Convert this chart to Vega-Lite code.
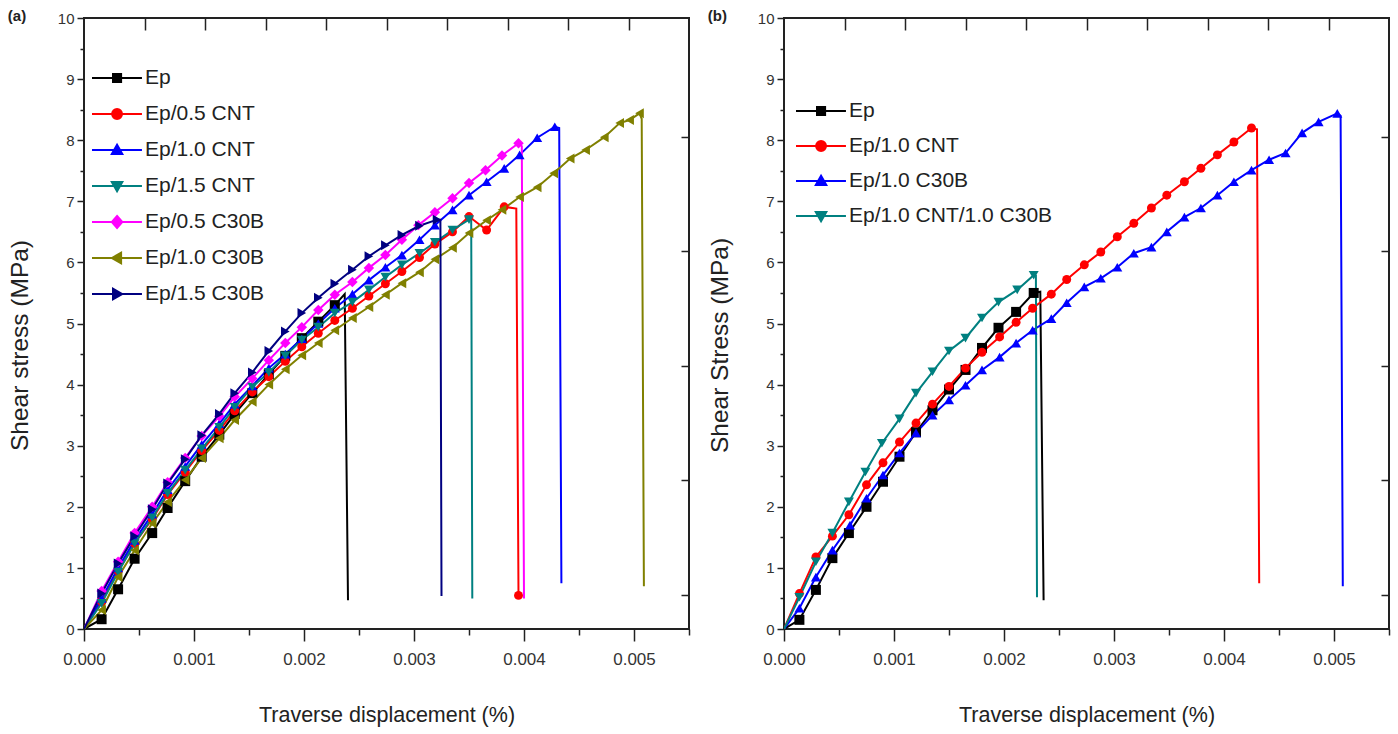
{
"$schema": "https://vega.github.io/schema/vega-lite/v6.json",
"background": "white",
"padding": {"left": 6, "top": 8, "right": 0, "bottom": 0},
"spacing": 15,
"config": {
  "font": "Liberation Sans",
  "view": {"stroke": "#222222", "strokeWidth": 2},
  "axis": {"grid": false, "domain": false, "tickColor": "#222222", "tickWidth": 1.5, "labelColor": "#333333", "titleColor": "#222222", "labelFont": "Liberation Sans", "titleFont": "Liberation Sans", "titleFontWeight": "normal", "labelOverlap": false, "labelFlush": false},
  "title": {"font": "Liberation Sans", "fontSize": 15, "fontWeight": "bold", "color": "#222222"},
  "point": {"filled": true, "opacity": 1, "size": 100, "clip": true}
},
"datasets": {
"a": [
{"s":"Ep","x":0,"y":0,"k":"trace"},{"s":"Ep","x":0.00016,"y":0.16,"k":"sample"},{"s":"Ep","x":0.00031,"y":0.65,"k":"sample"},{"s":"Ep","x":0.00046,"y":1.15,"k":"sample"},{"s":"Ep","x":0.00062,"y":1.57,"k":"sample"},{"s":"Ep","x":0.00076,"y":1.98,"k":"sample"},{"s":"Ep","x":0.00092,"y":2.42,"k":"sample"},{"s":"Ep","x":0.00107,"y":2.82,"k":"sample"},{"s":"Ep","x":0.00123,"y":3.18,"k":"sample"},{"s":"Ep","x":0.00137,"y":3.52,"k":"sample"},{"s":"Ep","x":0.00153,"y":3.86,"k":"sample"},{"s":"Ep","x":0.00168,"y":4.17,"k":"sample"},{"s":"Ep","x":0.00183,"y":4.47,"k":"sample"},{"s":"Ep","x":0.00198,"y":4.76,"k":"sample"},{"s":"Ep","x":0.00213,"y":5.03,"k":"sample"},{"s":"Ep","x":0.00228,"y":5.3,"k":"sample"},{"s":"Ep","x":0.00237,"y":5.48,"k":"trace"},{"s":"Ep","x":0.0024,"y":0.47,"k":"trace"},
{"s":"Ep/0.5 CNT","x":0,"y":0,"k":"trace"},{"s":"Ep/0.5 CNT","x":0.00016,"y":0.45,"k":"sample"},{"s":"Ep/0.5 CNT","x":0.00031,"y":0.95,"k":"sample"},{"s":"Ep/0.5 CNT","x":0.00046,"y":1.4,"k":"sample"},{"s":"Ep/0.5 CNT","x":0.00062,"y":1.8,"k":"sample"},{"s":"Ep/0.5 CNT","x":0.00076,"y":2.2,"k":"sample"},{"s":"Ep/0.5 CNT","x":0.00092,"y":2.57,"k":"sample"},{"s":"Ep/0.5 CNT","x":0.00107,"y":2.92,"k":"sample"},{"s":"Ep/0.5 CNT","x":0.00123,"y":3.25,"k":"sample"},{"s":"Ep/0.5 CNT","x":0.00137,"y":3.57,"k":"sample"},{"s":"Ep/0.5 CNT","x":0.00153,"y":3.88,"k":"sample"},{"s":"Ep/0.5 CNT","x":0.00168,"y":4.13,"k":"sample"},{"s":"Ep/0.5 CNT","x":0.00183,"y":4.38,"k":"sample"},{"s":"Ep/0.5 CNT","x":0.00198,"y":4.62,"k":"sample"},{"s":"Ep/0.5 CNT","x":0.00213,"y":4.84,"k":"sample"},{"s":"Ep/0.5 CNT","x":0.00228,"y":5.05,"k":"sample"},{"s":"Ep/0.5 CNT","x":0.00244,"y":5.25,"k":"sample"},{"s":"Ep/0.5 CNT","x":0.00259,"y":5.45,"k":"sample"},{"s":"Ep/0.5 CNT","x":0.00274,"y":5.65,"k":"sample"},{"s":"Ep/0.5 CNT","x":0.00289,"y":5.85,"k":"sample"},{"s":"Ep/0.5 CNT","x":0.00305,"y":6.08,"k":"sample"},{"s":"Ep/0.5 CNT","x":0.00319,"y":6.3,"k":"sample"},{"s":"Ep/0.5 CNT","x":0.00335,"y":6.5,"k":"sample"},{"s":"Ep/0.5 CNT","x":0.0035,"y":6.75,"k":"sample"},{"s":"Ep/0.5 CNT","x":0.00366,"y":6.53,"k":"sample"},{"s":"Ep/0.5 CNT","x":0.00382,"y":6.91,"k":"sample"},{"s":"Ep/0.5 CNT","x":0.00393,"y":6.88,"k":"trace"},{"s":"Ep/0.5 CNT","x":0.00395,"y":0.55,"k":"sample"},
{"s":"Ep/1.0 CNT","x":0,"y":0,"k":"trace"},{"s":"Ep/1.0 CNT","x":0.00016,"y":0.5,"k":"sample"},{"s":"Ep/1.0 CNT","x":0.00031,"y":1.0,"k":"sample"},{"s":"Ep/1.0 CNT","x":0.00046,"y":1.45,"k":"sample"},{"s":"Ep/1.0 CNT","x":0.00062,"y":1.88,"k":"sample"},{"s":"Ep/1.0 CNT","x":0.00076,"y":2.28,"k":"sample"},{"s":"Ep/1.0 CNT","x":0.00092,"y":2.66,"k":"sample"},{"s":"Ep/1.0 CNT","x":0.00107,"y":3.02,"k":"sample"},{"s":"Ep/1.0 CNT","x":0.00123,"y":3.36,"k":"sample"},{"s":"Ep/1.0 CNT","x":0.00137,"y":3.68,"k":"sample"},{"s":"Ep/1.0 CNT","x":0.00153,"y":3.98,"k":"sample"},{"s":"Ep/1.0 CNT","x":0.00168,"y":4.27,"k":"sample"},{"s":"Ep/1.0 CNT","x":0.00183,"y":4.5,"k":"sample"},{"s":"Ep/1.0 CNT","x":0.00198,"y":4.75,"k":"sample"},{"s":"Ep/1.0 CNT","x":0.00213,"y":5.0,"k":"sample"},{"s":"Ep/1.0 CNT","x":0.00228,"y":5.25,"k":"sample"},{"s":"Ep/1.0 CNT","x":0.00244,"y":5.48,"k":"sample"},{"s":"Ep/1.0 CNT","x":0.00259,"y":5.71,"k":"sample"},{"s":"Ep/1.0 CNT","x":0.00274,"y":5.92,"k":"sample"},{"s":"Ep/1.0 CNT","x":0.00289,"y":6.12,"k":"sample"},{"s":"Ep/1.0 CNT","x":0.00305,"y":6.37,"k":"sample"},{"s":"Ep/1.0 CNT","x":0.00319,"y":6.61,"k":"sample"},{"s":"Ep/1.0 CNT","x":0.00335,"y":6.86,"k":"sample"},{"s":"Ep/1.0 CNT","x":0.0035,"y":7.1,"k":"sample"},{"s":"Ep/1.0 CNT","x":0.00366,"y":7.32,"k":"sample"},{"s":"Ep/1.0 CNT","x":0.00382,"y":7.54,"k":"sample"},{"s":"Ep/1.0 CNT","x":0.00396,"y":7.76,"k":"sample"},{"s":"Ep/1.0 CNT","x":0.00412,"y":8.04,"k":"sample"},{"s":"Ep/1.0 CNT","x":0.00428,"y":8.22,"k":"sample"},{"s":"Ep/1.0 CNT","x":0.00432,"y":8.2,"k":"trace"},{"s":"Ep/1.0 CNT","x":0.00434,"y":0.75,"k":"trace"},
{"s":"Ep/1.5 CNT","x":0,"y":0,"k":"trace"},{"s":"Ep/1.5 CNT","x":0.00016,"y":0.42,"k":"sample"},{"s":"Ep/1.5 CNT","x":0.00031,"y":0.93,"k":"sample"},{"s":"Ep/1.5 CNT","x":0.00046,"y":1.4,"k":"sample"},{"s":"Ep/1.5 CNT","x":0.00062,"y":1.82,"k":"sample"},{"s":"Ep/1.5 CNT","x":0.00076,"y":2.22,"k":"sample"},{"s":"Ep/1.5 CNT","x":0.00092,"y":2.6,"k":"sample"},{"s":"Ep/1.5 CNT","x":0.00107,"y":2.95,"k":"sample"},{"s":"Ep/1.5 CNT","x":0.00123,"y":3.3,"k":"sample"},{"s":"Ep/1.5 CNT","x":0.00137,"y":3.63,"k":"sample"},{"s":"Ep/1.5 CNT","x":0.00153,"y":3.96,"k":"sample"},{"s":"Ep/1.5 CNT","x":0.00168,"y":4.2,"k":"sample"},{"s":"Ep/1.5 CNT","x":0.00183,"y":4.47,"k":"sample"},{"s":"Ep/1.5 CNT","x":0.00198,"y":4.73,"k":"sample"},{"s":"Ep/1.5 CNT","x":0.00213,"y":4.94,"k":"sample"},{"s":"Ep/1.5 CNT","x":0.00228,"y":5.17,"k":"sample"},{"s":"Ep/1.5 CNT","x":0.00244,"y":5.35,"k":"sample"},{"s":"Ep/1.5 CNT","x":0.00259,"y":5.55,"k":"sample"},{"s":"Ep/1.5 CNT","x":0.00274,"y":5.76,"k":"sample"},{"s":"Ep/1.5 CNT","x":0.00289,"y":5.96,"k":"sample"},{"s":"Ep/1.5 CNT","x":0.00305,"y":6.15,"k":"sample"},{"s":"Ep/1.5 CNT","x":0.00319,"y":6.33,"k":"sample"},{"s":"Ep/1.5 CNT","x":0.00335,"y":6.53,"k":"sample"},{"s":"Ep/1.5 CNT","x":0.0035,"y":6.7,"k":"sample"},{"s":"Ep/1.5 CNT","x":0.00352,"y":6.72,"k":"trace"},{"s":"Ep/1.5 CNT","x":0.00353,"y":0.5,"k":"trace"},
{"s":"Ep/0.5 C30B","x":0,"y":0,"k":"trace"},{"s":"Ep/0.5 C30B","x":0.00016,"y":0.62,"k":"sample"},{"s":"Ep/0.5 C30B","x":0.00031,"y":1.1,"k":"sample"},{"s":"Ep/0.5 C30B","x":0.00046,"y":1.57,"k":"sample"},{"s":"Ep/0.5 C30B","x":0.00062,"y":2.0,"k":"sample"},{"s":"Ep/0.5 C30B","x":0.00076,"y":2.4,"k":"sample"},{"s":"Ep/0.5 C30B","x":0.00092,"y":2.8,"k":"sample"},{"s":"Ep/0.5 C30B","x":0.00107,"y":3.16,"k":"sample"},{"s":"Ep/0.5 C30B","x":0.00123,"y":3.48,"k":"sample"},{"s":"Ep/0.5 C30B","x":0.00137,"y":3.8,"k":"sample"},{"s":"Ep/0.5 C30B","x":0.00153,"y":4.1,"k":"sample"},{"s":"Ep/0.5 C30B","x":0.00168,"y":4.4,"k":"sample"},{"s":"Ep/0.5 C30B","x":0.00183,"y":4.68,"k":"sample"},{"s":"Ep/0.5 C30B","x":0.00198,"y":4.94,"k":"sample"},{"s":"Ep/0.5 C30B","x":0.00213,"y":5.22,"k":"sample"},{"s":"Ep/0.5 C30B","x":0.00228,"y":5.47,"k":"sample"},{"s":"Ep/0.5 C30B","x":0.00244,"y":5.68,"k":"sample"},{"s":"Ep/0.5 C30B","x":0.00259,"y":5.91,"k":"sample"},{"s":"Ep/0.5 C30B","x":0.00274,"y":6.12,"k":"sample"},{"s":"Ep/0.5 C30B","x":0.00289,"y":6.37,"k":"sample"},{"s":"Ep/0.5 C30B","x":0.00304,"y":6.61,"k":"sample"},{"s":"Ep/0.5 C30B","x":0.00319,"y":6.82,"k":"sample"},{"s":"Ep/0.5 C30B","x":0.00335,"y":7.05,"k":"sample"},{"s":"Ep/0.5 C30B","x":0.0035,"y":7.3,"k":"sample"},{"s":"Ep/0.5 C30B","x":0.00365,"y":7.51,"k":"sample"},{"s":"Ep/0.5 C30B","x":0.0038,"y":7.75,"k":"sample"},{"s":"Ep/0.5 C30B","x":0.00395,"y":7.95,"k":"sample"},{"s":"Ep/0.5 C30B","x":0.00398,"y":7.9,"k":"trace"},{"s":"Ep/0.5 C30B","x":0.004,"y":0.5,"k":"trace"},
{"s":"Ep/1.0 C30B","x":0,"y":0,"k":"trace"},{"s":"Ep/1.0 C30B","x":0.00016,"y":0.31,"k":"sample"},{"s":"Ep/1.0 C30B","x":0.00031,"y":0.85,"k":"sample"},{"s":"Ep/1.0 C30B","x":0.00046,"y":1.29,"k":"sample"},{"s":"Ep/1.0 C30B","x":0.00062,"y":1.73,"k":"sample"},{"s":"Ep/1.0 C30B","x":0.00076,"y":2.08,"k":"sample"},{"s":"Ep/1.0 C30B","x":0.00092,"y":2.44,"k":"sample"},{"s":"Ep/1.0 C30B","x":0.00107,"y":2.8,"k":"sample"},{"s":"Ep/1.0 C30B","x":0.00123,"y":3.12,"k":"sample"},{"s":"Ep/1.0 C30B","x":0.00137,"y":3.42,"k":"sample"},{"s":"Ep/1.0 C30B","x":0.00153,"y":3.72,"k":"sample"},{"s":"Ep/1.0 C30B","x":0.00168,"y":4.0,"k":"sample"},{"s":"Ep/1.0 C30B","x":0.00183,"y":4.25,"k":"sample"},{"s":"Ep/1.0 C30B","x":0.00198,"y":4.48,"k":"sample"},{"s":"Ep/1.0 C30B","x":0.00213,"y":4.68,"k":"sample"},{"s":"Ep/1.0 C30B","x":0.00228,"y":4.89,"k":"sample"},{"s":"Ep/1.0 C30B","x":0.00244,"y":5.09,"k":"sample"},{"s":"Ep/1.0 C30B","x":0.00259,"y":5.27,"k":"sample"},{"s":"Ep/1.0 C30B","x":0.00274,"y":5.47,"k":"sample"},{"s":"Ep/1.0 C30B","x":0.00289,"y":5.66,"k":"sample"},{"s":"Ep/1.0 C30B","x":0.00305,"y":5.84,"k":"sample"},{"s":"Ep/1.0 C30B","x":0.00319,"y":6.05,"k":"sample"},{"s":"Ep/1.0 C30B","x":0.00335,"y":6.24,"k":"sample"},{"s":"Ep/1.0 C30B","x":0.0035,"y":6.48,"k":"sample"},{"s":"Ep/1.0 C30B","x":0.00366,"y":6.69,"k":"sample"},{"s":"Ep/1.0 C30B","x":0.0038,"y":6.86,"k":"sample"},{"s":"Ep/1.0 C30B","x":0.00396,"y":7.07,"k":"sample"},{"s":"Ep/1.0 C30B","x":0.00412,"y":7.23,"k":"sample"},{"s":"Ep/1.0 C30B","x":0.00427,"y":7.46,"k":"sample"},{"s":"Ep/1.0 C30B","x":0.00442,"y":7.7,"k":"sample"},{"s":"Ep/1.0 C30B","x":0.00456,"y":7.84,"k":"sample"},{"s":"Ep/1.0 C30B","x":0.00473,"y":8.05,"k":"sample"},{"s":"Ep/1.0 C30B","x":0.00487,"y":8.28,"k":"sample"},{"s":"Ep/1.0 C30B","x":0.00496,"y":8.33,"k":"sample"},{"s":"Ep/1.0 C30B","x":0.00505,"y":8.44,"k":"sample"},{"s":"Ep/1.0 C30B","x":0.00507,"y":8.35,"k":"trace"},{"s":"Ep/1.0 C30B","x":0.00509,"y":0.7,"k":"trace"},
{"s":"Ep/1.5 C30B","x":0,"y":0,"k":"trace"},{"s":"Ep/1.5 C30B","x":0.00016,"y":0.58,"k":"sample"},{"s":"Ep/1.5 C30B","x":0.00031,"y":1.07,"k":"sample"},{"s":"Ep/1.5 C30B","x":0.00046,"y":1.52,"k":"sample"},{"s":"Ep/1.5 C30B","x":0.00062,"y":1.96,"k":"sample"},{"s":"Ep/1.5 C30B","x":0.00076,"y":2.38,"k":"sample"},{"s":"Ep/1.5 C30B","x":0.00092,"y":2.78,"k":"sample"},{"s":"Ep/1.5 C30B","x":0.00107,"y":3.17,"k":"sample"},{"s":"Ep/1.5 C30B","x":0.00123,"y":3.52,"k":"sample"},{"s":"Ep/1.5 C30B","x":0.00137,"y":3.86,"k":"sample"},{"s":"Ep/1.5 C30B","x":0.00153,"y":4.2,"k":"sample"},{"s":"Ep/1.5 C30B","x":0.00168,"y":4.55,"k":"sample"},{"s":"Ep/1.5 C30B","x":0.00183,"y":4.87,"k":"sample"},{"s":"Ep/1.5 C30B","x":0.00198,"y":5.17,"k":"sample"},{"s":"Ep/1.5 C30B","x":0.00213,"y":5.42,"k":"sample"},{"s":"Ep/1.5 C30B","x":0.00228,"y":5.65,"k":"sample"},{"s":"Ep/1.5 C30B","x":0.00244,"y":5.88,"k":"sample"},{"s":"Ep/1.5 C30B","x":0.00259,"y":6.1,"k":"sample"},{"s":"Ep/1.5 C30B","x":0.00274,"y":6.28,"k":"sample"},{"s":"Ep/1.5 C30B","x":0.00289,"y":6.45,"k":"sample"},{"s":"Ep/1.5 C30B","x":0.00305,"y":6.6,"k":"sample"},{"s":"Ep/1.5 C30B","x":0.00321,"y":6.7,"k":"sample"},{"s":"Ep/1.5 C30B","x":0.00324,"y":6.7,"k":"trace"},{"s":"Ep/1.5 C30B","x":0.00325,"y":0.54,"k":"trace"}
],
"b": [
{"s":"Ep","x":0,"y":0,"k":"trace"},{"s":"Ep","x":0.00014,"y":0.15,"k":"sample"},{"s":"Ep","x":0.00029,"y":0.64,"k":"sample"},{"s":"Ep","x":0.00044,"y":1.16,"k":"sample"},{"s":"Ep","x":0.00059,"y":1.57,"k":"sample"},{"s":"Ep","x":0.00075,"y":2.0,"k":"sample"},{"s":"Ep","x":0.0009,"y":2.41,"k":"sample"},{"s":"Ep","x":0.00105,"y":2.82,"k":"sample"},{"s":"Ep","x":0.0012,"y":3.22,"k":"sample"},{"s":"Ep","x":0.00135,"y":3.58,"k":"sample"},{"s":"Ep","x":0.0015,"y":3.92,"k":"sample"},{"s":"Ep","x":0.00165,"y":4.24,"k":"sample"},{"s":"Ep","x":0.0018,"y":4.6,"k":"sample"},{"s":"Ep","x":0.00195,"y":4.93,"k":"sample"},{"s":"Ep","x":0.00211,"y":5.19,"k":"sample"},{"s":"Ep","x":0.00227,"y":5.5,"k":"sample"},{"s":"Ep","x":0.00233,"y":5.52,"k":"trace"},{"s":"Ep","x":0.00236,"y":0.47,"k":"trace"},
{"s":"Ep/1.0 CNT","x":0,"y":0,"k":"trace"},{"s":"Ep/1.0 CNT","x":0.00014,"y":0.58,"k":"sample"},{"s":"Ep/1.0 CNT","x":0.00029,"y":1.18,"k":"sample"},{"s":"Ep/1.0 CNT","x":0.00044,"y":1.52,"k":"sample"},{"s":"Ep/1.0 CNT","x":0.00059,"y":1.87,"k":"sample"},{"s":"Ep/1.0 CNT","x":0.00075,"y":2.36,"k":"sample"},{"s":"Ep/1.0 CNT","x":0.0009,"y":2.72,"k":"sample"},{"s":"Ep/1.0 CNT","x":0.00105,"y":3.06,"k":"sample"},{"s":"Ep/1.0 CNT","x":0.0012,"y":3.37,"k":"sample"},{"s":"Ep/1.0 CNT","x":0.00135,"y":3.68,"k":"sample"},{"s":"Ep/1.0 CNT","x":0.0015,"y":3.97,"k":"sample"},{"s":"Ep/1.0 CNT","x":0.00165,"y":4.27,"k":"sample"},{"s":"Ep/1.0 CNT","x":0.0018,"y":4.53,"k":"sample"},{"s":"Ep/1.0 CNT","x":0.00196,"y":4.78,"k":"sample"},{"s":"Ep/1.0 CNT","x":0.00211,"y":5.02,"k":"sample"},{"s":"Ep/1.0 CNT","x":0.00226,"y":5.25,"k":"sample"},{"s":"Ep/1.0 CNT","x":0.00243,"y":5.48,"k":"sample"},{"s":"Ep/1.0 CNT","x":0.00257,"y":5.72,"k":"sample"},{"s":"Ep/1.0 CNT","x":0.00273,"y":5.96,"k":"sample"},{"s":"Ep/1.0 CNT","x":0.00288,"y":6.17,"k":"sample"},{"s":"Ep/1.0 CNT","x":0.00303,"y":6.42,"k":"sample"},{"s":"Ep/1.0 CNT","x":0.00318,"y":6.64,"k":"sample"},{"s":"Ep/1.0 CNT","x":0.00334,"y":6.89,"k":"sample"},{"s":"Ep/1.0 CNT","x":0.00348,"y":7.1,"k":"sample"},{"s":"Ep/1.0 CNT","x":0.00364,"y":7.32,"k":"sample"},{"s":"Ep/1.0 CNT","x":0.00379,"y":7.54,"k":"sample"},{"s":"Ep/1.0 CNT","x":0.00394,"y":7.76,"k":"sample"},{"s":"Ep/1.0 CNT","x":0.00409,"y":7.97,"k":"sample"},{"s":"Ep/1.0 CNT","x":0.00425,"y":8.2,"k":"sample"},{"s":"Ep/1.0 CNT","x":0.0043,"y":8.18,"k":"trace"},{"s":"Ep/1.0 CNT","x":0.00432,"y":0.75,"k":"trace"},
{"s":"Ep/1.0 C30B","x":0,"y":0,"k":"trace"},{"s":"Ep/1.0 C30B","x":0.00014,"y":0.34,"k":"sample"},{"s":"Ep/1.0 C30B","x":0.00029,"y":0.85,"k":"sample"},{"s":"Ep/1.0 C30B","x":0.00044,"y":1.29,"k":"sample"},{"s":"Ep/1.0 C30B","x":0.0006,"y":1.7,"k":"sample"},{"s":"Ep/1.0 C30B","x":0.00075,"y":2.14,"k":"sample"},{"s":"Ep/1.0 C30B","x":0.0009,"y":2.52,"k":"sample"},{"s":"Ep/1.0 C30B","x":0.00105,"y":2.88,"k":"sample"},{"s":"Ep/1.0 C30B","x":0.0012,"y":3.21,"k":"sample"},{"s":"Ep/1.0 C30B","x":0.00135,"y":3.5,"k":"sample"},{"s":"Ep/1.0 C30B","x":0.0015,"y":3.75,"k":"sample"},{"s":"Ep/1.0 C30B","x":0.00165,"y":3.99,"k":"sample"},{"s":"Ep/1.0 C30B","x":0.0018,"y":4.24,"k":"sample"},{"s":"Ep/1.0 C30B","x":0.00196,"y":4.45,"k":"sample"},{"s":"Ep/1.0 C30B","x":0.00211,"y":4.68,"k":"sample"},{"s":"Ep/1.0 C30B","x":0.00226,"y":4.89,"k":"sample"},{"s":"Ep/1.0 C30B","x":0.00243,"y":5.08,"k":"sample"},{"s":"Ep/1.0 C30B","x":0.00257,"y":5.34,"k":"sample"},{"s":"Ep/1.0 C30B","x":0.00273,"y":5.6,"k":"sample"},{"s":"Ep/1.0 C30B","x":0.00288,"y":5.74,"k":"sample"},{"s":"Ep/1.0 C30B","x":0.00303,"y":5.92,"k":"sample"},{"s":"Ep/1.0 C30B","x":0.00318,"y":6.15,"k":"sample"},{"s":"Ep/1.0 C30B","x":0.00334,"y":6.25,"k":"sample"},{"s":"Ep/1.0 C30B","x":0.00348,"y":6.5,"k":"sample"},{"s":"Ep/1.0 C30B","x":0.00364,"y":6.74,"k":"sample"},{"s":"Ep/1.0 C30B","x":0.00379,"y":6.89,"k":"sample"},{"s":"Ep/1.0 C30B","x":0.00394,"y":7.1,"k":"sample"},{"s":"Ep/1.0 C30B","x":0.00409,"y":7.32,"k":"sample"},{"s":"Ep/1.0 C30B","x":0.00425,"y":7.51,"k":"sample"},{"s":"Ep/1.0 C30B","x":0.00441,"y":7.68,"k":"sample"},{"s":"Ep/1.0 C30B","x":0.00456,"y":7.79,"k":"sample"},{"s":"Ep/1.0 C30B","x":0.00471,"y":8.12,"k":"sample"},{"s":"Ep/1.0 C30B","x":0.00486,"y":8.3,"k":"sample"},{"s":"Ep/1.0 C30B","x":0.00503,"y":8.44,"k":"sample"},{"s":"Ep/1.0 C30B","x":0.00506,"y":8.4,"k":"trace"},{"s":"Ep/1.0 C30B","x":0.00508,"y":0.7,"k":"trace"},
{"s":"Ep/1.0 CNT/1.0 C30B","x":0,"y":0,"k":"trace"},{"s":"Ep/1.0 CNT/1.0 C30B","x":0.00014,"y":0.52,"k":"sample"},{"s":"Ep/1.0 CNT/1.0 C30B","x":0.00029,"y":1.1,"k":"sample"},{"s":"Ep/1.0 CNT/1.0 C30B","x":0.00044,"y":1.57,"k":"sample"},{"s":"Ep/1.0 CNT/1.0 C30B","x":0.00059,"y":2.08,"k":"sample"},{"s":"Ep/1.0 CNT/1.0 C30B","x":0.00074,"y":2.57,"k":"sample"},{"s":"Ep/1.0 CNT/1.0 C30B","x":0.00089,"y":3.04,"k":"sample"},{"s":"Ep/1.0 CNT/1.0 C30B","x":0.00105,"y":3.44,"k":"sample"},{"s":"Ep/1.0 CNT/1.0 C30B","x":0.0012,"y":3.86,"k":"sample"},{"s":"Ep/1.0 CNT/1.0 C30B","x":0.00135,"y":4.21,"k":"sample"},{"s":"Ep/1.0 CNT/1.0 C30B","x":0.0015,"y":4.55,"k":"sample"},{"s":"Ep/1.0 CNT/1.0 C30B","x":0.00165,"y":4.76,"k":"sample"},{"s":"Ep/1.0 CNT/1.0 C30B","x":0.0018,"y":5.09,"k":"sample"},{"s":"Ep/1.0 CNT/1.0 C30B","x":0.00195,"y":5.35,"k":"sample"},{"s":"Ep/1.0 CNT/1.0 C30B","x":0.00212,"y":5.55,"k":"sample"},{"s":"Ep/1.0 CNT/1.0 C30B","x":0.00227,"y":5.79,"k":"sample"},{"s":"Ep/1.0 CNT/1.0 C30B","x":0.00229,"y":5.78,"k":"trace"},{"s":"Ep/1.0 CNT/1.0 C30B","x":0.0023,"y":0.52,"k":"trace"}
]
},
"resolve": {"scale": {"color": "independent"}},
"hconcat": [
{
  "name": "pa",
  "width": 605, "height": 611,
  "title": {"text": "(a)", "anchor": "start", "frame": "bounds", "offset": 3, "dy": 16},
  "data": {"name": "a"},
  "layer": [
    {
      "mark": {"type": "line", "strokeWidth": 2, "clip": true},
      "encoding": {
        "x": {"field": "x", "type": "quantitative", "scale": {"domain": [0, 0.0055], "nice": false, "zero": false},
          "axis": {"orient": "bottom", "title": "Traverse displacement (%)", "titleFontSize": 21.5, "titlePadding": 37,
            "values": [0,0.0005,0.001,0.0015,0.002,0.0025,0.003,0.0035,0.004,0.0045,0.005,0.0055],
            "labelExpr": "round(datum.value*2000) % 2 === 0 ? format(datum.value, '.3f') : ''",
            "tickSize": {"condition": {"test": "round(datum.value*2000) % 2 === 0", "value": 12}, "value": 6},
            "labelFontSize": 17, "labelPadding": 10}},
        "y": {"field": "y", "type": "quantitative", "scale": {"domain": [0, 10], "nice": false},
          "axis": {"orient": "left", "title": "Shear stress (MPa)", "titleFontSize": 24.5, "titlePadding": 24.5, "titleY": 327,
            "values": [0,0.5,1,1.5,2,2.5,3,3.5,4,4.5,5,5.5,6,6.5,7,7.5,8,8.5,9,9.5,10],
            "labelExpr": "datum.value % 1 === 0 ? format(datum.value, 'd') : ''",
            "tickSize": {"condition": {"test": "datum.value % 1 === 0", "value": 7}, "value": 4},
            "labelFontSize": 15, "labelPadding": 3}},
        "color": {"field": "s", "type": "nominal",
          "scale": {"domain": ["Ep","Ep/0.5 CNT","Ep/1.0 CNT","Ep/1.5 CNT","Ep/0.5 C30B","Ep/1.0 C30B","Ep/1.5 C30B"],
                    "range": ["#000000","#ff0000","#0000ff","#008080","#ff00ff","#808000","#000080"]},
          "legend": {"title": null, "orient": "none", "legendX": 7, "legendY": 44, "padding": 0,
            "symbolSize": 900, "symbolStrokeWidth": 2, "labelFontSize": 21, "labelColor": "#222222", "labelOffset": 22, "rowPadding": 10, "labelLimit": 400,
            "encoding": {"symbols": {
              "shape": {"value": {"expr": "['M-1,0H2.33M0.4,-0.27H0.94V0.27H0.4Z','M-1,0H2.33M0.34,0A0.33,0.33,0,1,0,1,0A0.33,0.33,0,1,0,0.34,0Z','M-1,0H2.33M0.67,-0.35L1.02,0.27H0.32Z','M-1,0H2.33M0.67,0.35L1.02,-0.27H0.32Z','M-1,0H2.33M0.67,-0.4L1.02,0L0.67,0.4L0.32,0Z','M-1,0H2.33M0.32,0L0.94,-0.35V0.35Z','M-1,0H2.33M1.02,0L0.4,-0.35V0.35Z'][indexof(['Ep','Ep/0.5 CNT','Ep/1.0 CNT','Ep/1.5 CNT','Ep/0.5 C30B','Ep/1.0 C30B','Ep/1.5 C30B'], datum.value)]"}},
              "fill": {"value": {"expr": "['#000000','#ff0000','#0000ff','#008080','#ff00ff','#808000','#000080'][indexof(['Ep','Ep/0.5 CNT','Ep/1.0 CNT','Ep/1.5 CNT','Ep/0.5 C30B','Ep/1.0 C30B','Ep/1.5 C30B'], datum.value)]"}},
              "opacity": {"value": 1}, "strokeWidth": {"value": 2}
            }}}}
      }
    },
    {"transform": [{"filter": "datum.k === 'sample' && datum.s === 'Ep'"}], "mark": {"type": "point", "shape": "square"},
      "encoding": {
        "x": {"field": "x", "type": "quantitative",
          "axis": {"orient": "top", "title": null, "labels": false, "domain": false, "tickSize": -12,
            "values": [0.00055,0.0011,0.00165,0.0022,0.00275,0.0033,0.00385,0.0044,0.00495]}},
        "y": {"field": "y", "type": "quantitative",
          "axis": {"orient": "right", "title": null, "labels": false, "domain": false, "tickSize": -8,
            "values": [0.56,2.44,4.3,6.19,8.05]}},
        "color": {"field": "s", "type": "nominal", "legend": null}}},
    {"transform": [{"filter": "datum.k === 'sample' && datum.s === 'Ep/0.5 CNT'"}], "mark": {"type": "point", "shape": "circle", "size": 80},
      "encoding": {"x": {"field": "x", "type": "quantitative", "axis": null}, "y": {"field": "y", "type": "quantitative", "axis": null}, "color": {"field": "s", "type": "nominal", "legend": null}}},
    {"transform": [{"filter": "datum.k === 'sample' && datum.s === 'Ep/1.0 CNT'"}], "mark": {"type": "point", "shape": "triangle-up"},
      "encoding": {"x": {"field": "x", "type": "quantitative", "axis": null}, "y": {"field": "y", "type": "quantitative", "axis": null}, "color": {"field": "s", "type": "nominal", "legend": null}}},
    {"transform": [{"filter": "datum.k === 'sample' && datum.s === 'Ep/1.5 CNT'"}], "mark": {"type": "point", "shape": "triangle-down"},
      "encoding": {"x": {"field": "x", "type": "quantitative", "axis": null}, "y": {"field": "y", "type": "quantitative", "axis": null}, "color": {"field": "s", "type": "nominal", "legend": null}}},
    {"transform": [{"filter": "datum.k === 'sample' && datum.s === 'Ep/0.5 C30B'"}], "mark": {"type": "point", "shape": "diamond", "size": 110},
      "encoding": {"x": {"field": "x", "type": "quantitative", "axis": null}, "y": {"field": "y", "type": "quantitative", "axis": null}, "color": {"field": "s", "type": "nominal", "legend": null}}},
    {"transform": [{"filter": "datum.k === 'sample' && datum.s === 'Ep/1.0 C30B'"}], "mark": {"type": "point", "shape": "triangle-left"},
      "encoding": {"x": {"field": "x", "type": "quantitative", "axis": null}, "y": {"field": "y", "type": "quantitative", "axis": null}, "color": {"field": "s", "type": "nominal", "legend": null}}},
    {"transform": [{"filter": "datum.k === 'sample' && datum.s === 'Ep/1.5 C30B'"}], "mark": {"type": "point", "shape": "triangle-right"},
      "encoding": {"x": {"field": "x", "type": "quantitative", "axis": null}, "y": {"field": "y", "type": "quantitative", "axis": null}, "color": {"field": "s", "type": "nominal", "legend": null}}}
  ],
  "resolve": {"axis": {"x": "independent", "y": "independent"}}
},
{
  "name": "pb",
  "width": 605, "height": 611,
  "title": {"text": "(b)", "anchor": "start", "frame": "bounds", "offset": 3, "dy": 16},
  "data": {"name": "b"},
  "layer": [
    {
      "mark": {"type": "line", "strokeWidth": 2, "clip": true},
      "encoding": {
        "x": {"field": "x", "type": "quantitative", "scale": {"domain": [0, 0.0055], "nice": false, "zero": false},
          "axis": {"orient": "bottom", "title": "Traverse displacement (%)", "titleFontSize": 21.5, "titlePadding": 37,
            "values": [0,0.0005,0.001,0.0015,0.002,0.0025,0.003,0.0035,0.004,0.0045,0.005,0.0055],
            "labelExpr": "round(datum.value*2000) % 2 === 0 ? format(datum.value, '.3f') : ''",
            "tickSize": {"condition": {"test": "round(datum.value*2000) % 2 === 0", "value": 12}, "value": 6},
            "labelFontSize": 17, "labelPadding": 10}},
        "y": {"field": "y", "type": "quantitative", "scale": {"domain": [0, 10], "nice": false},
          "axis": {"orient": "left", "title": "Shear Stress (MPa)", "titleFontSize": 24.5, "titlePadding": 24.5, "titleY": 327,
            "values": [0,0.5,1,1.5,2,2.5,3,3.5,4,4.5,5,5.5,6,6.5,7,7.5,8,8.5,9,9.5,10],
            "labelExpr": "datum.value % 1 === 0 ? format(datum.value, 'd') : ''",
            "tickSize": {"condition": {"test": "datum.value % 1 === 0", "value": 7}, "value": 4},
            "labelFontSize": 15, "labelPadding": 3}},
        "color": {"field": "s", "type": "nominal",
          "scale": {"domain": ["Ep","Ep/1.0 CNT","Ep/1.0 C30B","Ep/1.0 CNT/1.0 C30B"],
                    "range": ["#000000","#ff0000","#0000ff","#008080"]},
          "legend": {"title": null, "orient": "none", "legendX": 11, "legendY": 77, "padding": 0,
            "symbolSize": 900, "symbolStrokeWidth": 2, "labelFontSize": 21, "labelColor": "#222222", "labelOffset": 22, "rowPadding": 9, "labelLimit": 400,
            "encoding": {"symbols": {
              "shape": {"value": {"expr": "['M-1,0H2.33M0.4,-0.27H0.94V0.27H0.4Z','M-1,0H2.33M0.34,0A0.33,0.33,0,1,0,1,0A0.33,0.33,0,1,0,0.34,0Z','M-1,0H2.33M0.67,-0.35L1.02,0.27H0.32Z','M-1,0H2.33M0.67,0.35L1.02,-0.27H0.32Z'][indexof(['Ep','Ep/1.0 CNT','Ep/1.0 C30B','Ep/1.0 CNT/1.0 C30B'], datum.value)]"}},
              "fill": {"value": {"expr": "['#000000','#ff0000','#0000ff','#008080'][indexof(['Ep','Ep/1.0 CNT','Ep/1.0 C30B','Ep/1.0 CNT/1.0 C30B'], datum.value)]"}},
              "opacity": {"value": 1}, "strokeWidth": {"value": 2}
            }}}}
      }
    },
    {"transform": [{"filter": "datum.k === 'sample' && datum.s === 'Ep'"}], "mark": {"type": "point", "shape": "square"},
      "encoding": {
        "x": {"field": "x", "type": "quantitative",
          "axis": {"orient": "top", "title": null, "labels": false, "domain": false, "tickSize": -12,
            "values": [0.00055,0.0011,0.00165,0.0022,0.00275,0.0033,0.00385,0.0044,0.00495]}},
        "y": {"field": "y", "type": "quantitative",
          "axis": {"orient": "right", "title": null, "labels": false, "domain": false, "tickSize": -8,
            "values": [0.56,2.44,4.3,6.19,8.05]}},
        "color": {"field": "s", "type": "nominal", "legend": null}}},
    {"transform": [{"filter": "datum.k === 'sample' && datum.s === 'Ep/1.0 CNT'"}], "mark": {"type": "point", "shape": "circle", "size": 80},
      "encoding": {"x": {"field": "x", "type": "quantitative", "axis": null}, "y": {"field": "y", "type": "quantitative", "axis": null}, "color": {"field": "s", "type": "nominal", "legend": null}}},
    {"transform": [{"filter": "datum.k === 'sample' && datum.s === 'Ep/1.0 C30B'"}], "mark": {"type": "point", "shape": "triangle-up"},
      "encoding": {"x": {"field": "x", "type": "quantitative", "axis": null}, "y": {"field": "y", "type": "quantitative", "axis": null}, "color": {"field": "s", "type": "nominal", "legend": null}}},
    {"transform": [{"filter": "datum.k === 'sample' && datum.s === 'Ep/1.0 CNT/1.0 C30B'"}], "mark": {"type": "point", "shape": "triangle-down"},
      "encoding": {"x": {"field": "x", "type": "quantitative", "axis": null}, "y": {"field": "y", "type": "quantitative", "axis": null}, "color": {"field": "s", "type": "nominal", "legend": null}}}
  ],
  "resolve": {"axis": {"x": "independent", "y": "independent"}}
}
]
}
